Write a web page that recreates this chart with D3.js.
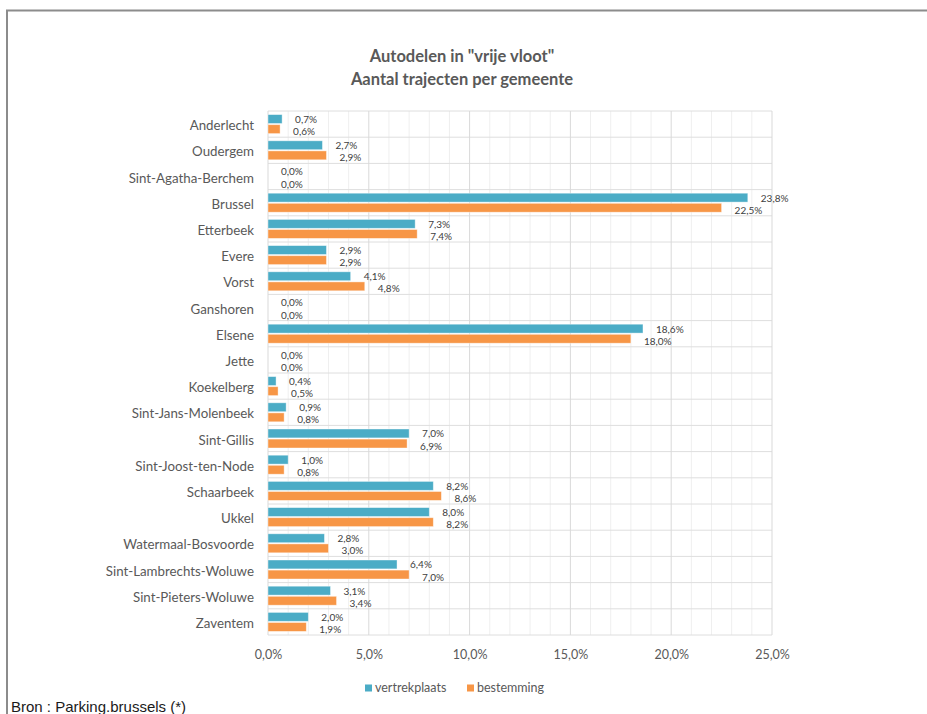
<!DOCTYPE html>
<html>
<head>
<meta charset="utf-8">
<script src="https://cdn.jsdelivr.net/npm/d3@7"></script>
<style>
  body { margin: 0; background: #fff; }
  svg { display: block; }
</style>
</head>
<body>
<script>
var categories = ["Anderlecht", "Oudergem", "Sint-Agatha-Berchem", "Brussel", "Etterbeek",
  "Evere", "Vorst", "Ganshoren", "Elsene", "Jette", "Koekelberg", "Sint-Jans-Molenbeek",
  "Sint-Gillis", "Sint-Joost-ten-Node", "Schaarbeek", "Ukkel", "Watermaal-Bosvoorde",
  "Sint-Lambrechts-Woluwe", "Sint-Pieters-Woluwe", "Zaventem"];
var vertrekplaats = [0.7, 2.7, 0.0, 23.8, 7.3, 2.9, 4.1, 0.0, 18.6, 0.0,
                     0.4, 0.9, 7.0, 1.0, 8.2, 8.0, 2.8, 6.4, 3.1, 2.0];
var bestemming = [0.6, 2.9, 0.0, 22.5, 7.4, 2.9, 4.8, 0.0, 18.0, 0.0,
                  0.5, 0.8, 6.9, 0.8, 8.6, 8.2, 3.0, 7.0, 3.4, 1.9];
var seriesNames = ["vertrekplaats", "bestemming"];
var xTicks = [0, 5, 10, 15, 20, 25];

var colors = { vertrekplaats: "#4bacc6", bestemming: "#f79646" };

var w = 927;
var h = 714;
var plotLeft = 268, plotRight = 772, plotTop = 111, plotBottom = 635;

var fmt = v => v.toFixed(1).replace(".", ",") + "%";

var svg = d3.select("body")
  .append("svg")
  .attr("width", w)
  .attr("height", h);

// frame (screenshot border)
svg.append("path")
  .attr("d", "M7,714 V10.5 H927")
  .attr("fill", "none")
  .attr("stroke", "#8c8c8c")
  .attr("stroke-width", 2);

var x = d3.scaleLinear().domain([0, 25]).range([plotLeft, plotRight]);
var y = d3.scaleBand().domain(categories).range([plotTop, plotBottom]);
var ySub = d3.scaleBand().domain(seriesNames)
  .range([3.6, y.bandwidth() - 3.6])
  .paddingInner(0.12);

// minor vertical grid, every 1%
svg.append("g")
  .selectAll("line")
  .data(d3.range(0, 26).filter(d => d % 5 !== 0))
  .enter()
  .append("line")
  .attr("x1", d => x(d)).attr("x2", d => x(d))
  .attr("y1", plotTop).attr("y2", plotBottom)
  .attr("stroke", "#efefef");

// horizontal grid between categories
svg.append("g")
  .selectAll("line")
  .data(d3.range(0, categories.length + 1))
  .enter()
  .append("line")
  .attr("x1", plotLeft).attr("x2", plotRight)
  .attr("y1", i => plotTop + i * y.step())
  .attr("y2", i => plotTop + i * y.step())
  .attr("stroke", "#dedede");

// major vertical grid
svg.append("g")
  .selectAll("line")
  .data(xTicks)
  .enter()
  .append("line")
  .attr("x1", d => x(d)).attr("x2", d => x(d))
  .attr("y1", plotTop).attr("y2", plotBottom)
  .attr("stroke", "#d9d9d9");

var rows = categories.map((c, i) => ({
  cat: c,
  vals: [
    { s: "vertrekplaats", v: vertrekplaats[i] },
    { s: "bestemming", v: bestemming[i] }
  ]
}));

var groups = svg.append("g")
  .selectAll("g")
  .data(rows)
  .enter()
  .append("g")
  .attr("transform", d => "translate(0," + y(d.cat) + ")");

groups.selectAll("rect")
  .data(d => d.vals.filter(e => e.v > 0))
  .enter()
  .append("rect")
  .attr("x", x(0))
  .attr("y", d => ySub(d.s))
  .attr("width", d => x(d.v) - x(0))
  .attr("height", ySub.bandwidth())
  .attr("fill", d => colors[d.s])
  .attr("stroke", "#ffffff")
  .attr("stroke-opacity", 0.5)
  .attr("stroke-width", 0.8);

// value labels: first series a bit above its bar centre, second a bit below
groups.selectAll("text")
  .data(d => d.vals)
  .enter()
  .append("text")
  .text(d => fmt(d.v))
  .attr("x", d => x(d.v) + 13)
  .attr("y", (d, i) => ySub(d.s) + ySub.bandwidth() / 2 + (i === 0 ? 0.5 : 2.5))
  .attr("dy", "0.35em")
  .attr("font-family", "Lato, sans-serif")
  .attr("font-size", "10px")
  .attr("fill", "#404040");

// category labels
svg.append("g")
  .selectAll("text")
  .data(categories)
  .enter()
  .append("text")
  .text(d => d)
  .attr("x", 254)
  .attr("y", d => y(d) + y.bandwidth() / 2 + 1.5)
  .attr("dy", "0.35em")
  .attr("text-anchor", "end")
  .attr("font-family", "Lato, sans-serif")
  .attr("font-size", "13.3px")
  .attr("fill", "#595959");

// x axis
var xAxis = svg.append("g")
  .attr("transform", "translate(0," + plotBottom + ")")
  .call(d3.axisBottom(x).tickValues(xTicks).tickFormat(fmt).tickSize(0).tickPadding(15));
xAxis.select(".domain").remove();
xAxis.selectAll("text")
  .attr("font-family", "Lato, sans-serif")
  .attr("font-size", "12.5px")
  .attr("fill", "#595959");

// title
var title = svg.append("text")
  .attr("text-anchor", "middle")
  .attr("font-family", "Lato, sans-serif")
  .attr("font-weight", "bold")
  .attr("font-size", "16.5px")
  .attr("fill", "#595959");
title.append("tspan").attr("x", 462).attr("y", 62).text('Autodelen in "vrije vloot"');
title.append("tspan").attr("x", 462).attr("y", 85).text("Aantal trajecten per gemeente");

// legend
var legend = svg.append("g")
  .selectAll("g")
  .data(seriesNames)
  .enter()
  .append("g")
  .attr("transform", (d, i) => "translate(" + [365, 467][i] + ",688)");
legend.append("rect")
  .attr("width", 7).attr("height", 7)
  .attr("y", -3.5)
  .attr("fill", d => colors[d]);
legend.append("text")
  .text(d => d)
  .attr("x", 10)
  .attr("dy", "0.35em")
  .attr("font-family", "Lato, sans-serif")
  .attr("font-size", "12.5px")
  .attr("fill", "#595959");

// source note
svg.append("text")
  .text("Bron : Parking.brussels (*)")
  .attr("x", 11)
  .attr("y", 712)
  .attr("font-family", "Liberation Sans, Arial, sans-serif")
  .attr("font-size", "15px")
  .attr("fill", "#1a1a1a");
</script>
</body>
</html>
